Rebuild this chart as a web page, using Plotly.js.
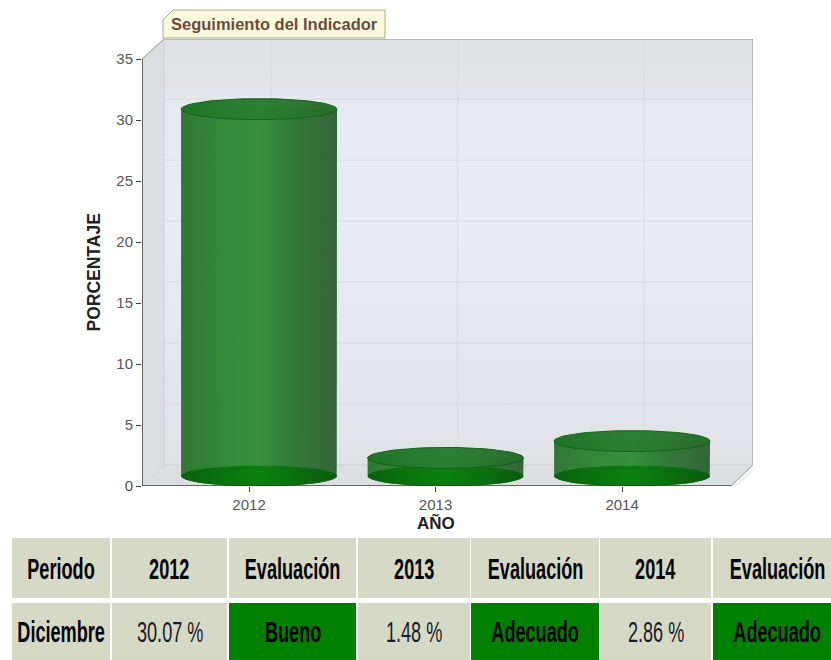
<!DOCTYPE html>
<html><head><meta charset="utf-8">
<script src="https://cdn.plot.ly/plotly-3.0.1.min.js"></script>
<style>html,body{margin:0;padding:0;background:#fff}#c{width:831px;height:660px}</style>
</head><body><div id="c"></div>
<script>
var years = [2012, 2013, 2014];
var values = [30.07, 1.48, 2.86];
var yTicks = [0, 5, 10, 15, 20, 25, 30, 35];
var ratings = ['Bueno', 'Adecuado', 'Adecuado'];
var period = 'Diciembre';
var periodHead = 'Periodo';
var evalLabel = 'Evaluación';
var titleText = 'Seguimiento del Indicador';
var xTitle = 'AÑO';
var yTitle = 'PORCENTAJE';

var W = 831, H = 660;
var tan = '#d5d9c6', okGreen = '#008000';
var sans = '"Liberation Sans",Arial,sans-serif';
var xMin = 2011.426, xMax = 2014.702, yMax = 36.64, yTop = 35;
var depthX = 0.118, depthY = 1.72;
var cylDX = 0.0536, cylDY = 0.82, rx = 0.418, ry = 0.86;
var wallX = xMin + depthX, frontXMax = xMax - depthX;
var colEdges = [[12, 110], [112, 227], [229, 356], [358, 470], [471, 599], [600, 711], [713, 831]];
var colCenters = [61, 169.5, 292.5, 414, 535, 655.5, 777];
var rowEdges = [[538, 598], [603, 660]];
var condense = 0.625;

function ellipse(cx, cy) {
  var xs = [], ys = [];
  for (var i = 0; i <= 72; i++) {
    var a = i / 72 * 2 * Math.PI;
    xs.push(cx + rx * Math.cos(a));
    ys.push(cy + ry * Math.sin(a));
  }
  return {x: xs, y: ys};
}
function body(cx, base, top) {
  var xs = [cx - rx, cx - rx, cx + rx, cx + rx], ys = [base, top, top, base];
  for (var i = 1; i < 36; i++) {
    var a = i / 36 * Math.PI;
    xs.push(cx + rx * Math.cos(a));
    ys.push(base - ry * Math.sin(a));
  }
  xs.push(cx - rx); ys.push(base);
  return {x: xs, y: ys};
}
function poly(xs, ys, color, extra) {
  return Object.assign({type: 'scatter', mode: 'lines', x: xs, y: ys, fill: 'toself', fillcolor: color,
    line: {width: 0}, hoverinfo: 'skip', showlegend: false, cliponaxis: false}, extra || {});
}
function path(xs, ys, color, width) {
  return {type: 'scatter', mode: 'lines', x: xs, y: ys, line: {color: color, width: width},
    hoverinfo: 'skip', showlegend: false, cliponaxis: false};
}
var traces = [];
// soft shadow
traces.push(path([xMax + 0.012, xMax + 0.012, frontXMax + 0.012, xMin], [yMax, depthY - 0.15, -0.2, -0.2], '#efefef', 3));
// walls
traces.push(poly([wallX, xMax, xMax, wallX, wallX], [depthY, depthY, yMax, yMax, depthY], '#e7ebef', {
  fillgradient: {type: 'vertical', colorscale: [[0, '#e0e2e6'], [0.25, '#e4e7eb'], [0.55, '#e8ecf0'], [0.85, '#e6eaee'], [0.9, '#e2e3e7'], [1, '#e1e2e6']]}
}));
traces.push(poly([xMin, wallX, wallX, xMin, xMin], [0, depthY, yMax, yTop, 0], '#dcdee1'));
traces.push(poly([xMin, wallX, xMax, frontXMax, xMin], [0, depthY, depthY, 0, 0], '#dcdee1'));
// grid
var gx = [], gy = [];
yTicks.slice(1, -1).forEach(function (v) {
  gx.push(xMin, wallX, xMax, null); gy.push(v, v + depthY, v + depthY, null);
});
years.forEach(function (y) {
  gx.push(y, y + depthX, y + depthX, null); gy.push(0, depthY, yMax, null);
});
traces.push(path(gx, gy, '#d9dbdf', 1));
traces.push(path([xMin, wallX, xMax, xMax, frontXMax], [yTop, yMax, yMax, depthY, 0], '#8d8f8f', 1));
traces.push(path([wallX, wallX, xMin], [yMax, depthY, 0], '#cdcfd2', 1));
traces.push(path([wallX, xMax], [depthY, depthY], '#cdcfd2', 1));
// cylinders
years.forEach(function (yr, i) {
  var cx = yr + cylDX, base = cylDY, top = values[i] + cylDY;
  var b = body(cx, base, top), e0 = ellipse(cx, base), e1 = ellipse(cx, top);
  traces.push(poly(b.x, b.y, '#2f8a36', {opacity: 0.97, fillgradient: {type: 'horizontal', colorscale:
    [[0, '#2c7431'], [0.3, '#2e8835'], [0.5, '#2f8e37'], [0.75, '#2d7433'], [1, '#306035']]}}));
  traces.push(poly(e0.x, e0.y, '#0a7a0d', {fillgradient: {type: 'horizontal', colorscale:
    [[0, '#0a620c'], [0.5, '#0a800f'], [1, '#0a5c0d']]}}));
  traces.push(poly(e1.x, e1.y, '#2a8030', {opacity: 0.98, line: {width: 1, color: '#14601a'}, fillgradient: {type: 'horizontal', colorscale:
    [[0, '#1f7325'], [0.5, '#2a7f30'], [1, '#276c2b']]}}));
});
traces.push(path([xMin, xMin, frontXMax], [yTop, 0, 0], '#3d3d3d', 1.5));

// table, built from the value arrays
var headRow = [periodHead], dataRow = [period], fills = [tan], boldData = [true];
years.forEach(function (y, i) {
  headRow.push(String(y), evalLabel);
  dataRow.push(values[i].toFixed(2) + ' %', ratings[i]);
  fills.push(tan, okGreen);
  boldData.push(false, true);
});
function px(x) { return x / W; }
function py(y) { return 1 - y / H; }
var shapes = [{type: 'path', xref: 'paper', yref: 'paper', layer: 'below',
  path: 'M ' + px(163) + ' ' + py(38) + ' L ' + px(163) + ' ' + py(20) + ' L ' + px(173) + ' ' + py(10) +
    ' L ' + px(385) + ' ' + py(10) + ' L ' + px(385) + ' ' + py(38) + ' Z',
  fillcolor: '#fdf9dc', line: {color: '#a8a68f', width: 1}}];
var annotations = [];
function cell(col, row, text, bold, fill) {
  var c = colEdges[col], r = rowEdges[row];
  shapes.push({type: 'rect', xref: 'paper', yref: 'paper', layer: 'below', x0: px(c[0]), x1: px(c[1]), y0: py(r[1]), y1: py(r[0]),
    fillcolor: fill, line: {width: 0}});
  annotations.push({xref: 'paper', yref: 'paper', x: px(colCenters[col]), y: py((r[0] + r[1]) / 2 + 0.5), xanchor: 'center', yanchor: 'middle',
    showarrow: false, text: text,
    font: {family: sans, size: 29, weight: bold ? 700 : 400, color: bold ? '#050505' : '#1c1c28'}});
}
headRow.forEach(function (t, i) { cell(i, 0, t, true, tan); });
dataRow.forEach(function (t, i) { cell(i, 1, t, boldData[i], fills[i]); });
annotations.push({xref: 'paper', yref: 'paper', x: px(435.5), y: py(522.5), xanchor: 'center', yanchor: 'middle', showarrow: false,
  text: xTitle, font: {family: sans, size: 17, weight: 700, color: '#222'}});
annotations.push({xref: 'paper', yref: 'paper', x: px(93), y: py(272.5), xanchor: 'center', yanchor: 'middle', showarrow: false, textangle: -90,
  text: yTitle, font: {family: sans, size: 17.5, weight: 700, color: '#222'}});

var tickFont = {family: sans, size: 15, color: '#555'};
var layout = {
  width: W, height: H, margin: {l: 0, r: 0, t: 0, b: 0}, paper_bgcolor: '#fff', plot_bgcolor: 'rgba(0,0,0,0)',
  showlegend: false,
  title: {text: titleText, x: px(171), xanchor: 'left', xref: 'paper', y: py(24), yanchor: 'middle', yref: 'container',
    font: {family: sans, size: 16.5, weight: 700, color: '#6b4c3c'}},
  xaxis: {domain: [142 / W, 753 / W], range: [xMin, xMax], tickmode: 'array', tickvals: years, ticktext: years.map(String),
    showgrid: false, zeroline: false, showline: false, ticks: 'outside', ticklen: 5, tickcolor: '#3d3d3d', tickfont: tickFont},
  yaxis: {domain: [174 / H, 621 / H], range: [0, yMax], tickmode: 'array', tickvals: yTicks, ticktext: yTicks.map(String),
    showgrid: false, zeroline: false, showline: false, ticks: 'outside', ticklen: 5, tickcolor: '#3d3d3d', tickfont: tickFont},
  shapes: shapes, annotations: annotations
};
Plotly.newPlot('c', traces, layout, {displayModeBar: false, staticPlot: true}).then(function () {
  // The table text in the reference is horizontally condensed: squeeze the real text glyphs about their centre.
  document.querySelectorAll('.annotation-text').forEach(function (t) {
    if (parseFloat(t.style.fontSize) >= 25) {
      var cx = parseFloat(t.getAttribute('x')) || 0;
      t.setAttribute('transform', 'translate(' + (cx * (1 - condense)).toFixed(2) + ',0) scale(' + condense + ',1)');
    }
  });
});
</script></body></html>
